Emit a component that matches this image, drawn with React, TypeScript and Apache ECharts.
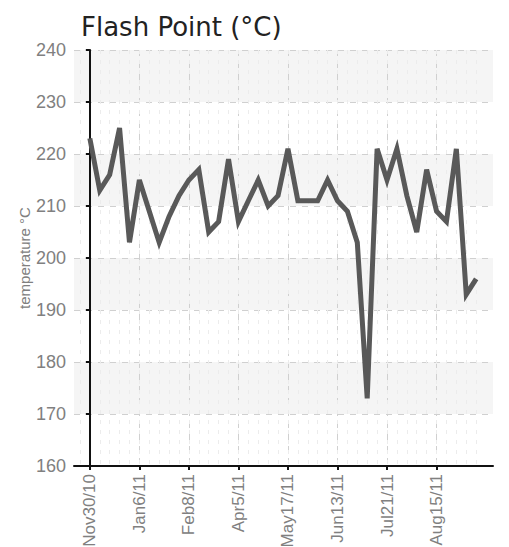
import React, { useEffect, useRef } from "react";
import * as echarts from "echarts";

const TITLE = "Flash Point (°C)";
const Y_NAME = "temperature °C";
const tickIndices = [0, 5, 10, 15, 20, 25, 30, 35];
const tickLabels = ["Nov30/10", "Jan6/11", "Feb8/11", "Apr5/11", "May17/11", "Jun13/11", "Jul21/11", "Aug15/11"];
const flashPoint = [
  223, 213, 216, 225, 203, 215, 209, 203, 208, 212,
  215, 217, 205, 207, 219, 207, 211, 215, 210, 212,
  221, 211, 211, 211, 215, 211, 209, 203, 173, 221,
  215, 221, 212, 205, 217, 209, 207, 221, 193, 196,
];

const LABEL_FONT = "'Liberation Sans', Arial, sans-serif";

export default function App() {
  const ref = useRef<HTMLDivElement>(null);
  useEffect(() => {
    document.body.style.margin = "0";
    document.body.style.overflow = "hidden";
    if (!ref.current) return;
    const chart = echarts.init(ref.current, null, { renderer: "svg" });
    const data = flashPoint.map((v, i) => [i, v]);
    const minorValues = [-1].concat(flashPoint.map((_, i) => i));
    chart.setOption({
      animation: false,
      backgroundColor: "#ffffff",
      title: {
        text: TITLE,
        left: 76,
        top: 9,
        textStyle: { fontFamily: "'DejaVu Sans', sans-serif", fontSize: 26, fontWeight: "normal", color: "#222" },
      },
      grid: { left: 74, top: 50, right: 16, bottom: 81, containLabel: false, outerBoundsMode: "none" },
      xAxis: [
        {
          type: "value",
          min: -1.6,
          max: 40.7,
          axisLine: { show: true, lineStyle: { color: "#111", width: 2 } },
          axisTick: { show: true, customValues: tickIndices, length: 4, lineStyle: { color: "#111", width: 2 } },
          axisLabel: {
            customValues: tickIndices,
            rotate: 90,
            margin: 8,
            color: "#808080",
            fontFamily: LABEL_FONT,
            fontSize: 17,
            formatter: (v: number) => {
              const k = tickIndices.indexOf(Math.round(v));
              return k >= 0 ? tickLabels[k] : "";
            },
          },
          splitLine: { show: true, lineStyle: { color: "#d0d0d0", type: [6, 6], width: 1 } },
        },
        {
          type: "value",
          min: -1.6,
          max: 40.7,
          position: "bottom",
          axisLine: { show: false },
          axisTick: { show: false, customValues: minorValues },
          axisLabel: { show: false, customValues: minorValues },
          splitLine: { show: true, lineStyle: { color: "#ececec", type: [4, 6], width: 1 } },
        },
      ],
      yAxis: {
        type: "value",
        min: 160,
        max: 240,
        interval: 10,
        name: Y_NAME,
        nameLocation: "middle",
        nameGap: 42,
        nameMoveOverlap: false,
        nameTextStyle: { color: "#808080", fontFamily: LABEL_FONT, fontSize: 15 },
        axisLine: { show: true, lineStyle: { color: "#111", width: 2 } },
        axisTick: { show: true, length: 4, lineStyle: { color: "#111", width: 2 } },
        axisLabel: { color: "#808080", fontFamily: LABEL_FONT, fontSize: 18, margin: 8 },
        splitLine: { show: true, lineStyle: { color: "#d0d0d0", type: [6, 6], width: 1 } },
        splitArea: { show: true, areaStyle: { color: ["rgba(255,255,255,0)", "#f5f5f5"] } },
      },
      series: [
        {
          type: "line",
          data,
          xAxisIndex: 0,
          showSymbol: false,
          symbol: "none",
          lineStyle: { color: "#595959", width: 5, join: "miter" },
          z: 5,
        },
      ],
    });
    return () => chart.dispose();
  }, []);
  return <div ref={ref} style={{ width: 509, height: 547 }} />;
}
